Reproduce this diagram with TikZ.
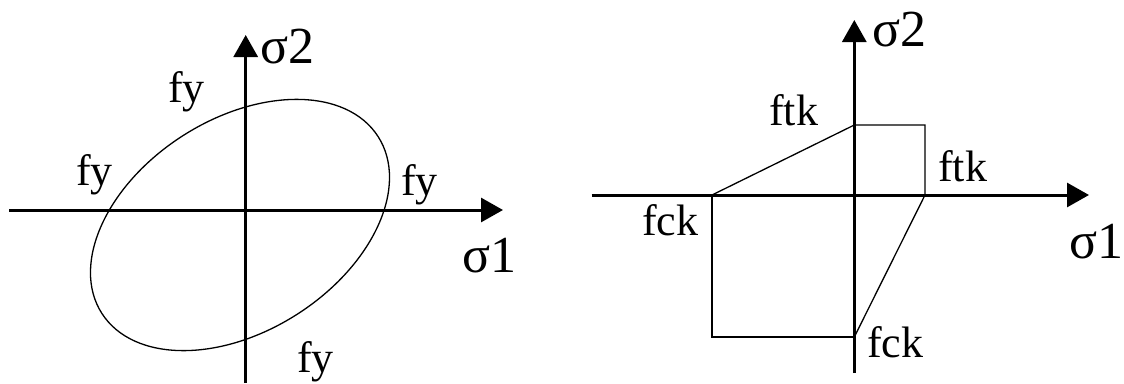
\documentclass[tikz,border=0pt]{standalone}
\usepackage{fontspec}
\setmainfont{Liberation Serif}
\usetikzlibrary{arrows.meta}
\begin{document}
\begin{tikzpicture}[x=1pt,y=-1pt,
  axis/.style={line width=3pt,-{Triangle[length=22pt,width=24pt]}},
  curve/.style={line width=1.3pt},
  flab/.style={inner sep=0pt,anchor=base west,font=\fontsize{44}{44}\selectfont},
  slab/.style={inner sep=0pt,anchor=base west,font=\fontsize{52}{52}\selectfont}]
\useasboundingbox (0,0) rectangle (1124,383);
% ---------- left diagram ----------
\coordinate (LxS) at (9,210);
\coordinate (LxE) at (503,210);
\coordinate (LyS) at (245.7,383);
\coordinate (LyE) at (245.7,35);
\coordinate (Lc) at (240,225);
\draw[curve,rotate around={32.6:(Lc)}] (Lc) ellipse [x radius=164pt, y radius=106pt];
\draw[axis] (LxS) -- (LxE);
\draw[axis] (LyS) -- (LyE);
\node[slab] (s2L) at (260,63) {σ2};
\node[slab] (s1L) at (462,272) {σ1};
\node[flab] (fyT) at (168,102) {fy};
\node[flab] (fyL) at (76,185) {fy};
\node[flab] (fyR) at (401,195) {fy};
\node[flab] (fyB) at (297,372) {fy};
% ---------- right diagram ----------
\coordinate (RxS) at (591.7,195);
\coordinate (RxE) at (1089,195);
\coordinate (RyS) at (854.3,373);
\coordinate (RyE) at (854.3,20);
\coordinate (A) at (712,195);
\coordinate (B) at (854.3,125);
\coordinate (C) at (925,125);
\coordinate (D) at (925,195);
\coordinate (E) at (854.3,337);
\coordinate (F) at (712,337);
\draw[curve] (A) -- (B) -- (C) -- (D) -- (E);
\draw[curve] (A) -- (F) -- (E);
\draw[axis] (RxS) -- (RxE);
\draw[axis] (RyS) -- (RyE);
\node[slab] (s2R) at (872,46.4) {σ2};
\node[slab] (s1R) at (1069,258) {σ1};
\node[flab] (ftkT) at (769,125.4) {ftk};
\node[flab] (ftkR) at (938,181) {ftk};
\node[flab] (fckL) at (642,235) {fck};
\node[flab] (fckB) at (867,357.5) {fck};
\end{tikzpicture}
\end{document}
